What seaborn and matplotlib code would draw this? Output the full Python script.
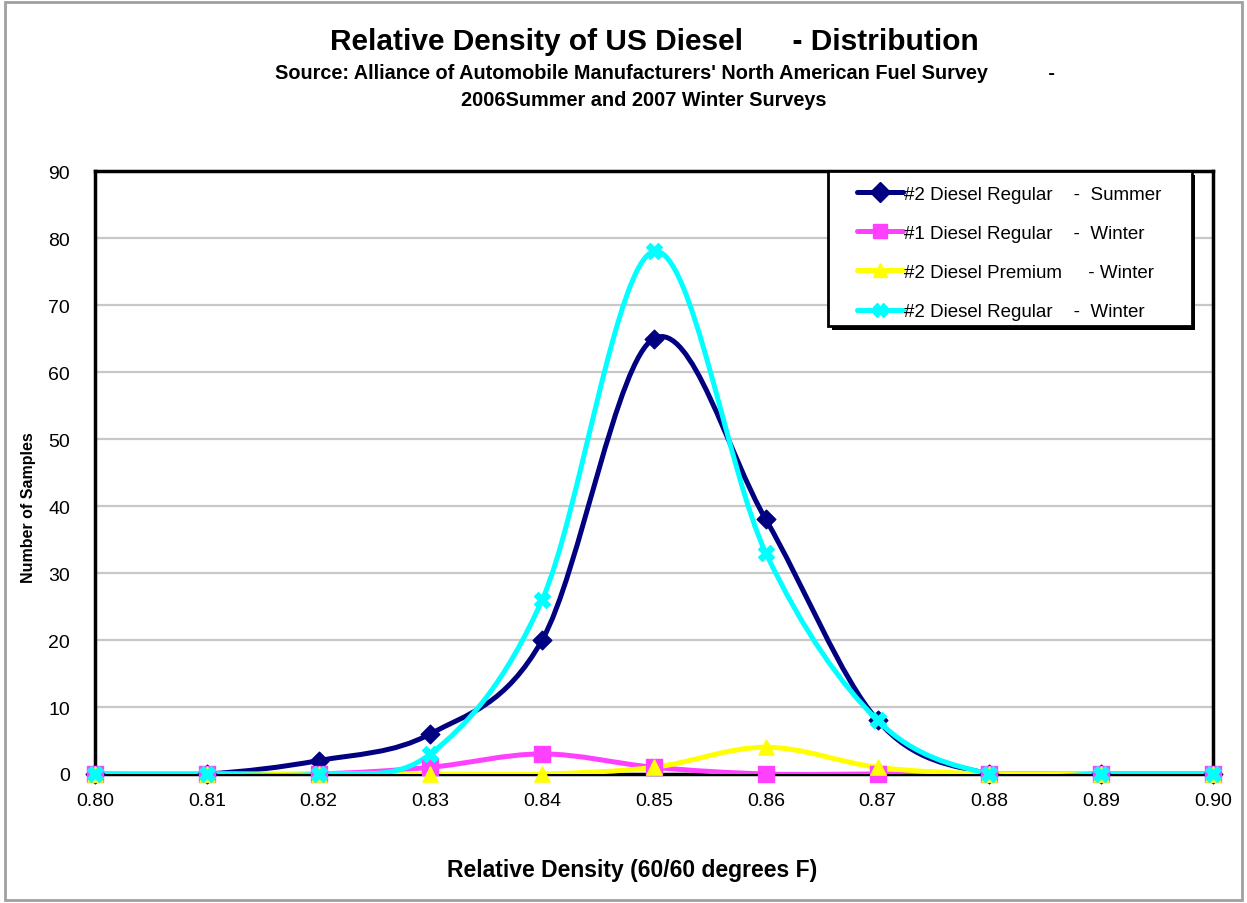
import numpy as np
import pandas as pd
import matplotlib
matplotlib.use("Agg")
import matplotlib.pyplot as plt
import seaborn as sns
from matplotlib.path import Path
from matplotlib.patches import PathPatch, Rectangle
from matplotlib.lines import Line2D

# Relative density bins (60/60 degrees F)
density = [0.80, 0.81, 0.82, 0.83, 0.84, 0.85, 0.86, 0.87, 0.88, 0.89, 0.90]

# Number of samples per bin
no2_regular_summer = [0, 0, 2, 6, 20, 65, 38, 8, 0, 0, 0]
no1_regular_winter = [0, 0, 0, 1, 3, 1, 0, 0, 0, 0, 0]
no2_premium_winter = [0, 0, 0, 0, 0, 1, 4, 1, 0, 0, 0]
no2_regular_winter = [0, 0, 0, 3, 26, 78, 33, 8, 0, 0, 0]

series_labels = [
    "#2 Diesel Regular    -  Summer",
    "#1 Diesel Regular    -  Winter",
    "#2 Diesel Premium     - Winter",
    "#2 Diesel Regular    -  Winter",
]
series_values = [no2_regular_summer, no1_regular_winter,
                 no2_premium_winter, no2_regular_winter]
colors = ["#000080", "#FF40FF", "#FFFF00", "#00FFFF"]
markers = ["D", "s", "^", "X"]
marker_sizes = [90, 120, 120, 130]

x_ticks = [0.80, 0.81, 0.82, 0.83, 0.84, 0.85, 0.86, 0.87, 0.88, 0.89, 0.90]
y_ticks = [0, 10, 20, 30, 40, 50, 60, 70, 80, 90]

frames = []
for label, vals in zip(series_labels, series_values):
    frames.append(pd.DataFrame({"density": density, "samples": vals, "series": label}))
df = pd.concat(frames, ignore_index=True)

sns.set_theme(style="white")
plt.rcParams["font.family"] = ["Liberation Sans", "DejaVu Sans"]
plt.rcParams["text.color"] = "black"
plt.rcParams["axes.labelcolor"] = "black"
plt.rcParams["xtick.color"] = "black"
plt.rcParams["ytick.color"] = "black"

fig = plt.figure(figsize=(12.47, 9.04), dpi=100)
ax = fig.add_axes([0.0762, 0.1427, 0.8965, 0.667])


def smooth_path(xs, ys):
    """Catmull-Rom style Bezier path through the points (smoothed line)."""
    pts = np.column_stack([xs, ys]).astype(float)
    n = len(pts)
    verts = [pts[0]]
    codes = [Path.MOVETO]
    for i in range(n - 1):
        p0 = pts[i - 1] if i > 0 else pts[i]
        p1 = pts[i]
        p2 = pts[i + 1]
        p3 = pts[i + 2] if i + 2 < n else pts[i + 1]
        c1 = p1 + (p2 - p0) / 6.0
        c2 = p2 - (p3 - p1) / 6.0
        verts += [c1, c2, p2]
        codes += [Path.CURVE4] * 3
    return Path(verts, codes)


for label, color in zip(series_labels, colors):
    sub = df[df["series"] == label]
    patch = PathPatch(smooth_path(sub["density"], sub["samples"]),
                      facecolor="none", edgecolor=color, lw=3.6,
                      capstyle="round", joinstyle="round", zorder=3)
    ax.add_patch(patch)

for label, color, mk, ms in zip(series_labels, colors, markers, marker_sizes):
    sub = df[df["series"] == label]
    sns.scatterplot(data=sub, x="density", y="samples", ax=ax, color=color,
                    marker=mk, s=ms, edgecolor=color, linewidth=1.0,
                    zorder=4, legend=False, clip_on=False)

ax.set_xlim(0.80, 0.90)
ax.set_ylim(0, 90)
ax.set_xticks(x_ticks)
ax.set_xticklabels([f"{v:.2f}" for v in x_ticks])
ax.set_yticks(y_ticks)
ax.yaxis.grid(True, color="#c8c8c8", lw=1.6)
ax.xaxis.grid(False)
ax.set_axisbelow(True)
for side in ["left", "right", "top", "bottom"]:
    ax.spines[side].set_visible(True)
    ax.spines[side].set_color("black")
    ax.spines[side].set_linewidth(2.5)
ax.tick_params(axis="both", which="both", direction="out", length=4,
               width=1, color="black", labelsize=14)
ax.tick_params(axis="y", pad=14)
ax.tick_params(axis="x", pad=9)

ax.set_xlabel("")
ax.set_ylabel("")
fig.text(0.507, 0.037, "Relative Density (60/60 degrees F)", ha="center",
         va="center", fontsize=16.5, fontweight="bold")
fig.text(0.023, 0.438, "Number of Samples", rotation=90, ha="center",
         va="center", fontsize=11.5, fontweight="bold")

fig.text(0.525, 0.954, "Relative Density of US Diesel      - Distribution",
         ha="center", va="center", fontsize=21.5, fontweight="bold")
fig.text(0.533, 0.919,
         "Source: Alliance of Automobile Manufacturers' North American Fuel Survey           -",
         ha="center", va="center", fontsize=14.3, fontweight="bold")
fig.text(0.516, 0.889, "2006Summer and 2007 Winter Surveys",
         ha="center", va="center", fontsize=14.3, fontweight="bold")

# Legend box with a thin drop shadow
box = dict(x=0.656, y=0.743, w=0.325, h=0.257)
ax.add_patch(Rectangle((box["x"] + 0.003, box["y"] - 0.006), box["w"], box["h"],
                       transform=ax.transAxes, facecolor="black",
                       edgecolor="none", zorder=9, clip_on=False))
ax.add_patch(Rectangle((box["x"], box["y"]), box["w"], box["h"],
                       transform=ax.transAxes, facecolor="white",
                       edgecolor="black", lw=2.0, zorder=9.5, clip_on=False))

handles = [
    Line2D([0], [0], color=c, lw=3.6, marker=m, markersize=10,
           markerfacecolor=c, markeredgecolor=c)
    for c, m in zip(colors, markers)
]
leg = ax.legend(handles, series_labels, loc="upper left",
                bbox_to_anchor=(0.675, 0.988), fontsize=13.5, frameon=False,
                handlelength=2.45, handletextpad=0.05, labelspacing=1.17,
                borderpad=0.4, borderaxespad=0.0)
leg.set_zorder(10)

# Outer chart border
fig.patches.append(Rectangle((0.004, 0.003), 0.992, 0.994,
                             transform=fig.transFigure, fill=False,
                             edgecolor="#a0a0a0", lw=2.0))

fig.savefig("out.png", dpi=100, facecolor="white")
